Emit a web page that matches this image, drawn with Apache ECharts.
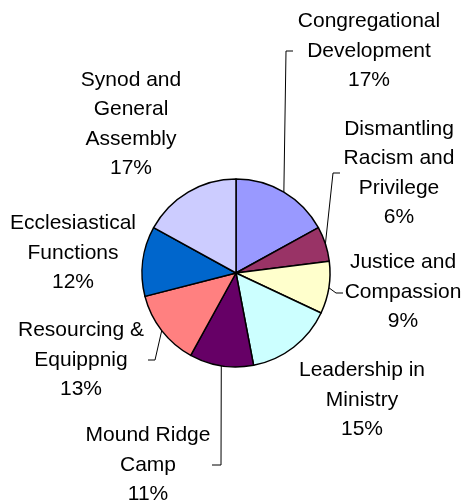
<!DOCTYPE html>
<html>
<head>
<meta charset="utf-8">
<script src="https://cdn.jsdelivr.net/npm/echarts@6/dist/echarts.min.js"></script>
<style>
html,body{margin:0;padding:0;background:#fff;}
#c{width:466px;height:504px;}
</style>
</head>
<body>
<div id="c"></div>
<script>
// Data
var categories = [
  "Congregational\nDevelopment",
  "Dismantling\nRacism and\nPrivilege",
  "Justice and\nCompassion",
  "Leadership in\nMinistry",
  "Mound Ridge\nCamp",
  "Resourcing &\nEquippnig",
  "Ecclesiastical\nFunctions",
  "Synod and\nGeneral\nAssembly"
];
var values = [17, 6, 9, 15, 11, 13, 12, 17];
var colors = ["#9999FF", "#993366", "#FFFFCC", "#CCFFFF", "#660066", "#FF8080", "#0066CC", "#CCCCFF"];

// Label layout (style)
var labelCenters = [
  [369, 51], [399, 173], [403, 292], [362, 400],
  [148, 465], [81, 360], [73, 253], [131, 124]
];
var hasLine = [true, true, true, false, true, true, false, false];
var lineEnds = [
  [[286, 51], [293, 51]],
  [[333, 173], [340, 173]],
  [[336, 293], [343, 293]],
  null,
  [[221, 465], [212, 465]],
  [[155, 360], [148, 360]],
  null, null
];

var cx = 236, cy = 273, R = 94;
var total = values.reduce(function(a, b){ return a + b; }, 0);
var cum = [];
(function(){ var s = 0; for (var i = 0; i < values.length; i++){ cum.push(s + values[i] / 2); s += values[i]; } })();

var chart = echarts.init(document.getElementById('c'), null, {renderer: 'canvas'});
var data = categories.map(function(n, i){
  return {
    name: n, value: values[i],
    itemStyle: {color: colors[i]},
    labelLine: {show: hasLine[i]}
  };
});
chart.setOption({
  backgroundColor: '#ffffff',
  animation: false,
  series: [{
    type: 'pie',
    center: [cx, cy],
    radius: [0, R],
    startAngle: 90,
    clockwise: true,
    avoidLabelOverlap: false,
    data: data,
    itemStyle: {borderColor: '#000', borderWidth: 1.5},
    emphasis: {disabled: true},
    label: {
      show: true,
      formatter: function(p){ return p.name + '\n' + p.value + '%'; },
      fontFamily: 'Liberation Sans, Arial, sans-serif',
      fontSize: 21,
      lineHeight: 29.5,
      color: '#000',
      align: 'center'
    },
    labelLine: {show: true, length: 10, length2: 10, lineStyle: {color: '#000', width: 1}},
    labelLayout: function(p){
      var i = p.dataIndex;
      var out = {
        x: labelCenters[i][0], y: labelCenters[i][1],
        align: 'center', verticalAlign: 'middle'
      };
      if (hasLine[i]) {
        var a = (cum[i] / total) * 2 * Math.PI;
        var sx = cx + R * Math.sin(a), sy = cy - R * Math.cos(a);
        out.labelLinePoints = [[sx, sy], lineEnds[i][0], lineEnds[i][1]];
      }
      return out;
    }
  }]
});
</script>
</body>
</html>
